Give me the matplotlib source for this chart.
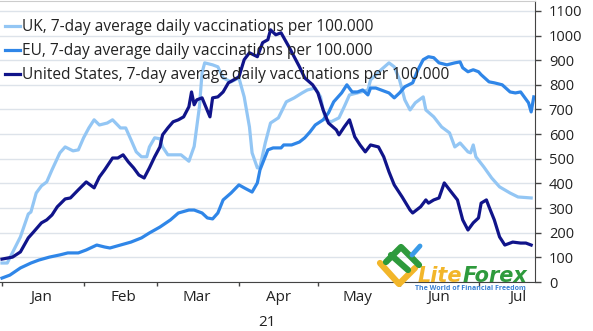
import matplotlib.pyplot as plt
import matplotlib.dates as mdates
from matplotlib.ticker import NullFormatter
from matplotlib.lines import Line2D
import pandas as pd

plt.rcParams["font.family"] = ["Open Sans", "DejaVu Sans"]

start = pd.Timestamp("2021-01-01")

# days after Jan 1 2021, value per 100.000
uk_day = [0, 2, 7, 10, 11, 13, 15, 17, 19, 22, 24, 27, 29, 31, 33, 35, 37, 40, 42, 45,
          47, 49, 51, 53, 55, 56, 58, 60, 61, 63, 65, 68, 71, 73, 75, 76, 77, 80, 82, 84,
          87, 90, 92, 94, 95, 97, 98, 100, 102, 105, 108, 111, 114, 116, 119, 121, 122, 123, 125, 128,
          130, 132, 135, 139, 140, 144, 147, 149, 151, 153, 155, 157, 160, 161, 164, 167, 170, 172, 174, 177,
          178, 179, 180, 183, 186, 189, 193, 196, 201]
uk_val = [77, 77, 183, 276, 284, 361, 390, 406, 455, 524, 548, 532, 536, 585, 625, 658, 637, 645, 658, 625,
          625, 577, 528, 508, 508, 548, 585, 581, 548, 516, 516, 516, 490, 550, 711, 849, 889, 881, 873, 828,
          812, 828, 751, 629, 524, 463, 467, 564, 645, 666, 731, 747, 767, 779, 787, 751, 698, 658, 650, 666,
          711, 759, 767, 779, 820, 861, 889, 873, 820, 739, 698, 727, 751, 698, 670, 629, 605, 548, 564, 528,
          524, 556, 508, 467, 422, 386, 361, 345, 341]

eu_day = [0, 3, 7, 11, 14, 18, 22, 25, 29, 32, 36, 39, 41, 45, 49, 53, 56, 60, 64, 67,
          71, 73, 76, 78, 80, 82, 84, 87, 90, 92, 95, 97, 98, 101, 103, 106, 107, 110, 113, 115,
          117, 119, 122, 124, 126, 129, 131, 133, 135, 137, 139, 140, 142, 144, 147, 149, 151, 153, 156, 158,
          160, 162, 164, 166, 169, 172, 174, 175, 177, 179, 181, 182, 185, 187, 190, 193, 195, 197, 200, 201,
          202]
eu_val = [16, 28, 57, 77, 89, 101, 110, 118, 118, 130, 150, 142, 138, 150, 162, 179, 199, 223, 252, 280,
          292, 292, 280, 260, 256, 280, 333, 361, 394, 382, 365, 402, 455, 536, 544, 544, 556, 556, 568, 585,
          609, 637, 658, 686, 731, 767, 800, 771, 771, 779, 759, 787, 787, 779, 767, 747, 767, 792, 808, 861,
          902, 914, 910, 889, 881, 889, 893, 869, 853, 861, 853, 841, 812, 808, 800, 771, 767, 771, 727, 690,
          751]

us_day = [0, 4, 7, 10, 12, 15, 17, 19, 21, 24, 26, 29, 32, 35, 37, 39, 42, 44, 46, 48,
          50, 52, 54, 56, 58, 60, 61, 63, 65, 67, 69, 71, 72, 73, 74, 76, 79, 80, 82, 84,
          86, 88, 90, 92, 94, 97, 99, 101, 102, 104, 106, 109, 113, 115, 118, 120, 122, 124, 127, 128,
          130, 132, 134, 136, 138, 140, 143, 145, 147, 149, 152, 155, 156, 159, 161, 162, 164, 166, 168, 170,
          173, 175, 177, 179, 181, 182, 184, 185, 187, 189, 191, 194, 197, 199, 201]
us_val = [93, 101, 122, 179, 203, 240, 252, 272, 305, 337, 341, 374, 406, 382, 426, 455, 503, 503, 516, 487,
          463, 434, 422, 463, 508, 548, 597, 625, 650, 658, 670, 711, 771, 719, 739, 747, 670, 747, 751, 771,
          808, 820, 832, 902, 930, 914, 971, 983, 1023, 1003, 1011, 954, 873, 828, 800, 767, 698, 645, 617, 597,
          629, 658, 589, 556, 528, 556, 548, 508, 447, 394, 345, 292, 280, 305, 333, 320, 333, 341, 402, 374,
          333, 252, 211, 240, 260, 320, 333, 305, 252, 183, 150, 162, 158, 158, 150]

labels = ["UK, 7-day average daily vaccinations per 100.000",
          "EU, 7-day average daily vaccinations per 100.000",
          "United States, 7-day average daily vaccinations per 100.000"]
colors = ["#93c6f4", "#2f86e8", "#10148a"]


def to_dates(days):
    return start + pd.to_timedelta(days, unit="D")


fig = plt.figure(figsize=(5.93, 3.31), dpi=100)
ax = fig.add_axes([0, 0.148, 0.902, 0.849])

for d, v, c, lab in zip([uk_day, eu_day, us_day], [uk_val, eu_val, us_val], colors, labels):
    ax.plot(to_dates(d), v, color=c, lw=2.3, label=lab, solid_joinstyle="round")

ax.set_ylim(0, 1140)
ax.set_xlim(pd.Timestamp("2020-12-31 06:00"), pd.Timestamp("2021-07-22 10:00"))
ax.set_yticks(range(0, 1200, 100))
ax.yaxis.tick_right()
ax.grid(axis="y", color="#dde3ea", lw=1)
ax.set_axisbelow(True)

ax.xaxis.set_major_locator(mdates.MonthLocator())
ax.xaxis.set_major_formatter(NullFormatter())
ax.xaxis.set_minor_locator(mdates.MonthLocator(bymonthday=16))
ax.xaxis.set_minor_formatter(mdates.DateFormatter("%b"))
ax.tick_params(axis="x", which="major", length=3, width=1, color="#444444")
ax.tick_params(axis="x", which="minor", length=0, pad=6, labelsize=11, labelcolor="#222222")
ax.tick_params(axis="y", length=4, width=1, color="#444444", pad=6, labelsize=10.5, labelcolor="#222222")

ax.spines["left"].set_visible(False)
ax.spines["top"].set_color("#cccccc")
ax.spines["right"].set_color("#444444")
ax.spines["bottom"].set_color("#444444")

leg = ax.legend(loc="upper left", bbox_to_anchor=(0.009, 0.935), frameon=False, fontsize=11.2,
                handlelength=1.0, handletextpad=0.12, labelspacing=0.52, borderpad=0, borderaxespad=0)
for t in leg.get_texts():
    t.set_color("#222222")

fig.text(267 / 593, 1 - 323 / 331, "21", ha="center", va="center", fontsize=11, color="#222222")

# watermark
W, H = 593, 331


def mark(xs, ys, color, lw):
    fig.add_artist(Line2D([x / W for x in xs], [1 - y / H for y in ys], color=color, lw=lw,
                          solid_capstyle="round", transform=fig.transFigure, zorder=5))


mark([380, 399, 415], [263, 284, 268], "#f2b62a", 4.5)
mark([386, 401, 419], [262, 247, 265], "#2e9a3c", 4.5)
mark([391, 408], [255, 270], "#2e9a3c", 4.5)
mark([412, 420], [255, 246], "#3a9be8", 3.5)
fig.text(418 / W, 1 - 282 / H, "Lite", fontsize=15, fontweight="bold", style="italic",
         family="DejaVu Sans", color="#f2b62a", ha="left", va="baseline")
fig.text(463 / W, 1 - 282 / H, "Forex", fontsize=15, fontweight="bold", style="italic",
         family="DejaVu Sans", color="#2e9a3c", ha="left", va="baseline")
fig.text(470 / W, 1 - 288 / H, "The World of Financial Freedom", fontsize=5, fontweight="bold",
         color="#3a80d4", ha="center", va="center")

fig.savefig("out.png", dpi=100)
